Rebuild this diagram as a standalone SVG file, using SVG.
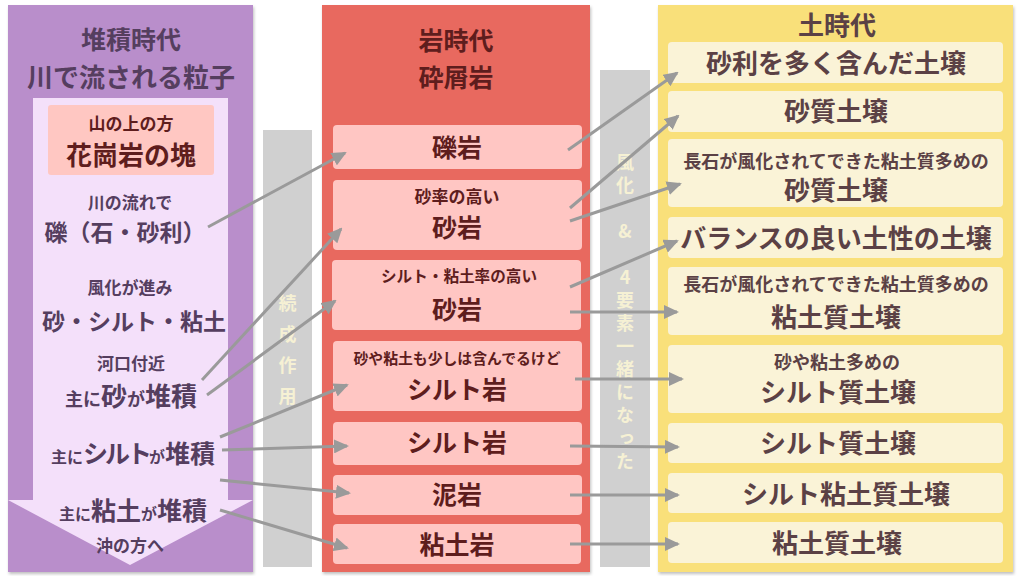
<svg xmlns="http://www.w3.org/2000/svg" width="1024" height="576" viewBox="0 0 1024 576">
<style>
text{font-family:"Noto Sans CJK JP","Noto Sans",sans-serif;font-weight:bold;text-anchor:middle}
.lt{fill:#553e5f}
.mt{fill:#5e1d1d}
.rt{fill:#5b4145}
.vt{fill:#f6f1d4;font-size:18px;writing-mode:vertical-rl;text-orientation:upright;text-anchor:start}
.big{font-size:25px}
.sm{font-size:17px}
.rbox{fill:#ffc6c3}
.ybox{fill:#faf3d7}
.con line{stroke:#9a9a9a;stroke-width:3;marker-end:url(#ah)}
</style>
<defs>
<marker id="ah" markerUnits="userSpaceOnUse" markerWidth="15" markerHeight="14" refX="13" refY="7" orient="auto">
<path d="M0,0 L15,7 L0,14 z" fill="#9a9a9a"/>
</marker>
<filter id="sh" x="-5%" y="-5%" width="110%" height="110%">
<feDropShadow dx="1" dy="2" stdDeviation="1.5" flood-color="#000" flood-opacity="0.25"/>
</filter>
</defs>
<rect width="1024" height="576" fill="#ffffff"/>

<g id="bar-left">
<rect x="263" y="130" width="49" height="437" fill="#d0d0d0"/>
<text class="vt" x="287.5" y="294" style="letter-spacing:13px">続成作用</text>
</g>
<g id="bar-right">
<rect x="600" y="70" width="50" height="497" fill="#d0d0d0"/>
<text class="vt" x="625" y="153" style="letter-spacing:5px">風化　&amp;　4要素一緒になった</text>
</g>

<g id="panel-sedimentation">
<rect x="8" y="5" width="245" height="567" fill="#b98ecb" filter="url(#sh)"/>
<polygon points="33,98 228,98 228,500 253,500 130,565 8,500 33,500" fill="#f4e0fa"/>
<text class="lt" x="131" y="49" style="font-size:25px">堆積時代</text>
<text class="lt" x="131" y="87" style="font-size:26px">川で流される粒子</text>
<rect x="48" y="105" width="166" height="70" rx="3" fill="#ffc7c2"/>
<text class="mt" x="131" y="130" style="font-size:17px">山の上の方</text>
<text class="mt" x="131" y="165" style="font-size:26px">花崗岩の塊</text>
<text class="lt sm" x="130" y="209">川の流れで</text>
<text class="lt" x="125" y="241" style="font-size:23px">礫（石・砂利）</text>
<text class="lt sm" x="130" y="294">風化が進み</text>
<text class="lt" x="134" y="330" style="font-size:23px">砂・シルト・粘土</text>
<text class="lt sm" x="131" y="370">河口付近</text>
<text class="lt" x="131" y="406"><tspan style="font-size:18px">主に</tspan><tspan style="font-size:26px">砂</tspan><tspan style="font-size:18px">が</tspan><tspan style="font-size:26px">堆積</tspan></text>
<text class="lt" x="133" y="463"><tspan style="font-size:16px">主に</tspan><tspan style="font-size:25px;letter-spacing:-3px">シルト</tspan><tspan style="font-size:16px">が</tspan><tspan style="font-size:25px">堆積</tspan></text>
<text class="lt" x="133" y="520"><tspan style="font-size:16px">主に</tspan><tspan style="font-size:25px">粘土</tspan><tspan style="font-size:16px">が</tspan><tspan style="font-size:25px">堆積</tspan></text>
<text class="lt sm" x="130" y="552">沖の方へ</text>
</g>

<g id="panel-rock">
<rect x="322" y="5" width="268" height="567" fill="#e8695f" filter="url(#sh)"/>
<text class="mt big" x="456" y="50">岩時代</text>
<text class="mt big" x="456" y="87">砕屑岩</text>
</g>
<g id="rock-1"><rect class="rbox" x="333" y="125" width="249" height="44" rx="4"/><text class="mt big" x="457" y="157">礫岩</text></g>
<g id="rock-2"><rect class="rbox" x="333" y="180" width="249" height="70" rx="4"/><text class="mt" x="457" y="203" style="font-size:17px">砂率の高い</text><text class="mt big" x="457" y="237">砂岩</text></g>
<g id="rock-3"><rect class="rbox" x="332" y="260" width="249" height="70" rx="4"/><text class="mt" x="459" y="282" style="font-size:16px" textLength="156" lengthAdjust="spacingAndGlyphs">シルト・粘土率の高い</text><text class="mt big" x="457" y="319">砂岩</text></g>
<g id="rock-4"><rect class="rbox" x="333" y="341" width="249" height="70" rx="4"/><text class="mt" x="457" y="364" style="font-size:15px" textLength="207" lengthAdjust="spacingAndGlyphs">砂や粘土も少しは含んでるけど</text><text class="mt big" x="457" y="399">シルト岩</text></g>
<g id="rock-5"><rect class="rbox" x="333" y="422" width="249" height="43" rx="4"/><text class="mt big" x="457" y="452">シルト岩</text></g>
<g id="rock-6"><rect class="rbox" x="333" y="475" width="249" height="40" rx="4"/><text class="mt big" x="457" y="504">泥岩</text></g>
<g id="rock-7"><rect class="rbox" x="333" y="524" width="248" height="40" rx="4"/><text class="mt big" x="457" y="554">粘土岩</text></g>

<g id="panel-soil">
<rect x="658" y="5" width="355" height="567" fill="#f9e07a" filter="url(#sh)"/>
<text class="rt" x="837" y="35" style="font-size:26px">土時代</text>
</g>
<g id="soil-1"><rect class="ybox" x="668" y="42" width="335" height="41" rx="4"/><text class="rt" x="836" y="73" style="font-size:26px">砂利を多く含んだ土壌</text></g>
<g id="soil-2"><rect class="ybox" x="668" y="91" width="335" height="41" rx="4"/><text class="rt" x="836" y="121" style="font-size:26px">砂質土壌</text></g>
<g id="soil-3"><rect class="ybox" x="668" y="139" width="335" height="68" rx="4"/><text class="rt" x="836" y="168" style="font-size:18px">長石が風化されてできた粘土質多めの</text><text class="rt" x="836" y="200" style="font-size:26px">砂質土壌</text></g>
<g id="soil-4"><rect class="ybox" x="668" y="217" width="335" height="41" rx="4"/><text class="rt" x="836" y="248" style="font-size:26px">バランスの良い土性の土壌</text></g>
<g id="soil-5"><rect class="ybox" x="668" y="267" width="335" height="68" rx="4"/><text class="rt" x="836" y="291" style="font-size:18px">長石が風化されてできた粘土質多めの</text><text class="rt" x="836" y="327" style="font-size:26px">粘土質土壌</text></g>
<g id="soil-6"><rect class="ybox" x="668" y="345" width="335" height="68" rx="4"/><text class="rt" x="837" y="369" style="font-size:18px">砂や粘土多めの</text><text class="rt" x="838" y="402" style="font-size:26px">シルト質土壌</text></g>
<g id="soil-7"><rect class="ybox" x="668" y="423" width="335" height="40" rx="4"/><text class="rt" x="838" y="453" style="font-size:26px">シルト質土壌</text></g>
<g id="soil-8"><rect class="ybox" x="668" y="473" width="335" height="40" rx="4"/><text class="rt" x="846" y="504" style="font-size:26px">シルト粘土質土壌</text></g>
<g id="soil-9"><rect class="ybox" x="668" y="522" width="335" height="41" rx="4"/><text class="rt" x="837" y="553" style="font-size:26px">粘土質土壌</text></g>

<g id="connectors" class="con">
<line x1="208" y1="227" x2="345" y2="153"/>
<line x1="202" y1="380" x2="341" y2="229"/>
<line x1="207" y1="395" x2="335" y2="301"/>
<line x1="220" y1="437" x2="347" y2="385"/>
<line x1="222" y1="450" x2="347" y2="446"/>
<line x1="220" y1="480" x2="349" y2="493"/>
<line x1="220" y1="510" x2="347" y2="548"/>
<line x1="568" y1="150" x2="677" y2="73"/>
<line x1="570" y1="208" x2="678" y2="116"/>
<line x1="570" y1="221" x2="680" y2="184"/>
<line x1="570" y1="287" x2="677" y2="241"/>
<line x1="570" y1="312" x2="677" y2="312"/>
<line x1="575" y1="379" x2="682" y2="379"/>
<line x1="570" y1="446" x2="678" y2="447"/>
<line x1="570" y1="495" x2="678" y2="495"/>
<line x1="570" y1="544" x2="678" y2="544"/>
</g>
</svg>
